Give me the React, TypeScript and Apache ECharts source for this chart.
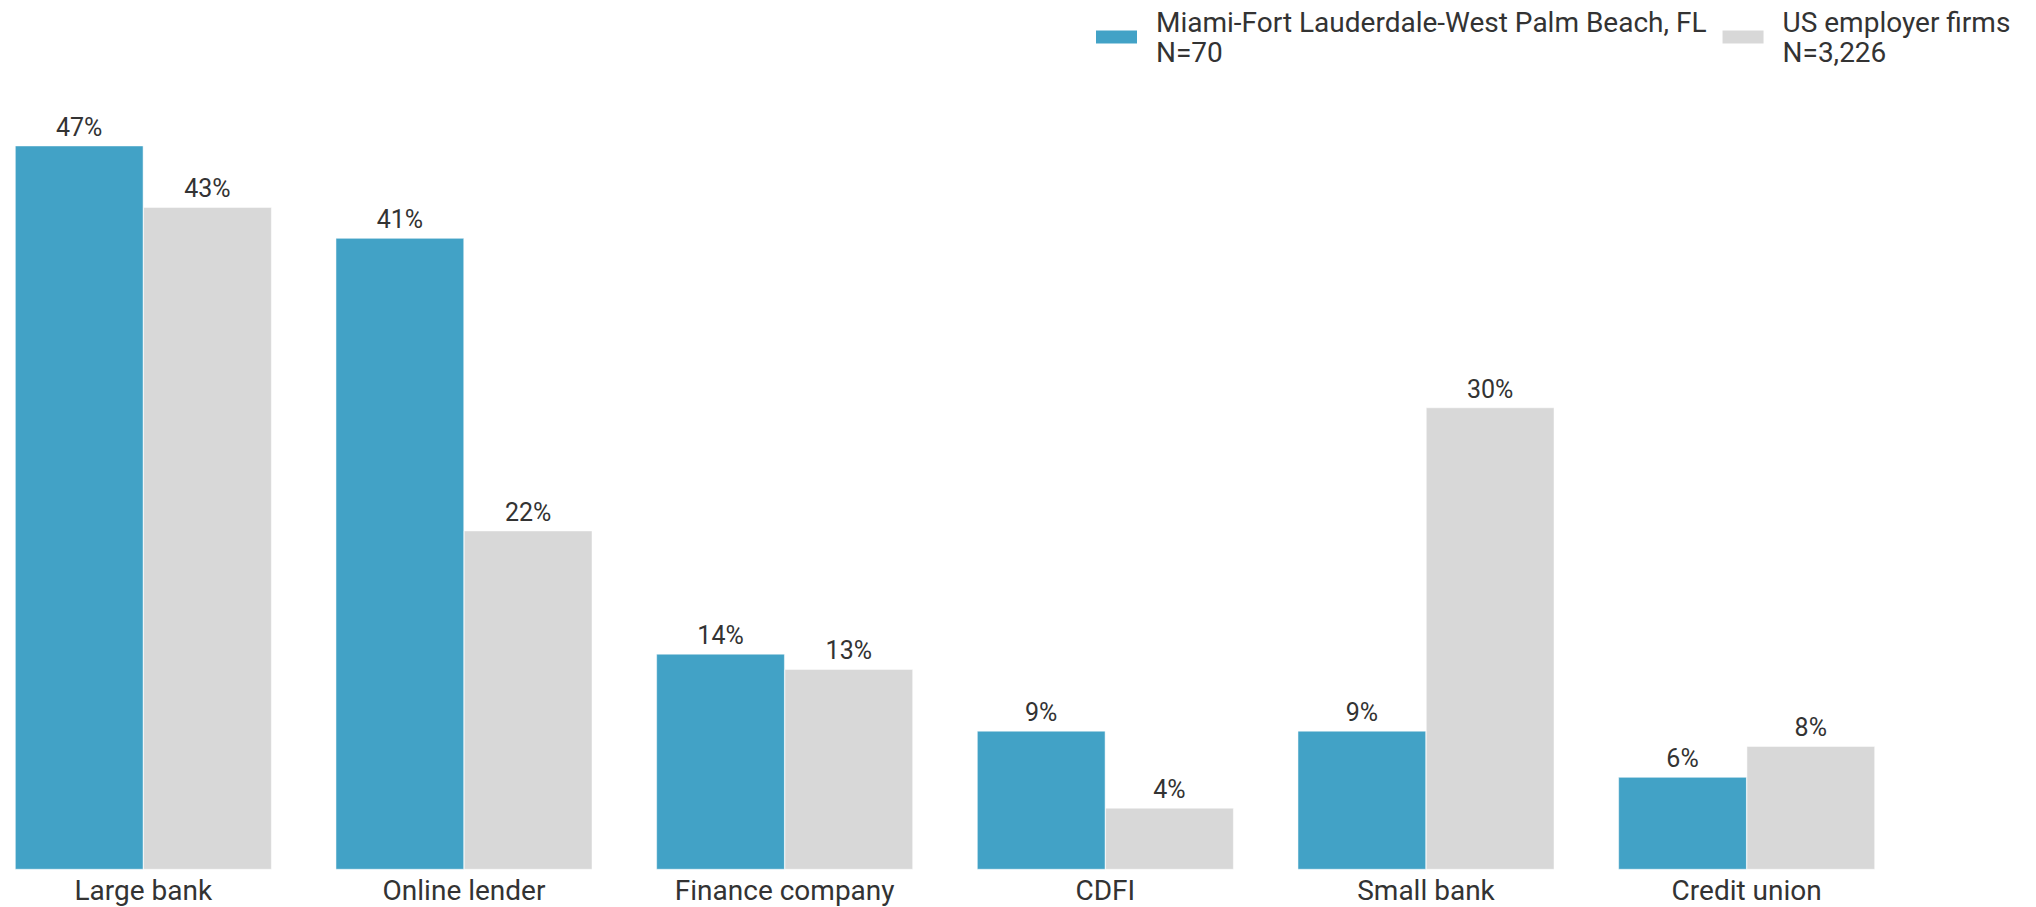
import React, { useEffect, useRef } from "react";
import * as echarts from "echarts";

const categories = ["Large bank", "Online lender", "Finance company", "CDFI", "Small bank", "Credit union"];
const miamiValues = [47, 41, 14, 9, 9, 6];
const usValues = [43, 22, 13, 4, 30, 8];
const seriesNames = ["Miami-Fort Lauderdale-West Palm Beach, FL\nN=70", "US employer firms\nN=3,226"];

const BLUE = "#42A2C6";
const GREY = "#D8D8D8";
const TEXT = "#333333";
const FONT = "Roboto";
const SHIFT = 17;

export default function App() {
  const ref = useRef<HTMLDivElement>(null);
  useEffect(() => {
    if (!ref.current) return;
    const chart = echarts.init(ref.current, undefined, { renderer: "svg" });
    const label = {
      show: true,
      position: "top" as const,
      distance: 6,
      formatter: "{c}%",
      color: TEXT,
      fontFamily: FONT,
      fontSize: 25,
    };
    chart.setOption({
      animation: false,
      backgroundColor: "#ffffff",
      legend: {
        left: 1089 + SHIFT,
        top: 2,
        itemWidth: 43,
        itemHeight: 15,
        itemGap: 14,
        icon: "rect",
        textStyle: {
          color: TEXT,
          fontFamily: FONT,
          fontSize: 28,
          lineHeight: 30,
          padding: [0, 0, 0, 13],
        },
        data: seriesNames,
      },
      grid: { left: 0, right: 129, top: 99.5, bottom: 37.5 },
      xAxis: {
        type: "category",
        data: categories,
        axisLine: { show: false },
        axisTick: { show: false },
        axisLabel: { color: TEXT, fontFamily: FONT, fontSize: 28, margin: 7 },
      },
      yAxis: {
        type: "value",
        min: 0,
        max: 50,
        show: false,
        splitLine: { show: false },
      },
      series: [
        {
          name: seriesNames[0],
          type: "bar",
          data: miamiValues,
          barGap: "0%",
          barCategoryGap: "20%",
          itemStyle: { color: BLUE, borderColor: "#ffffff", borderWidth: 0.5 },
          label,
        },
        {
          name: seriesNames[1],
          type: "bar",
          data: usValues,
          barGap: "0%",
          barCategoryGap: "20%",
          itemStyle: { color: GREY, borderColor: "#ffffff", borderWidth: 0.5 },
          label,
        },
      ],
    });
    return () => chart.dispose();
  }, []);
  return (
    <div
      ref={ref}
      style={{ position: "fixed", left: -SHIFT, top: 0, width: 2036 + SHIFT, height: 907 }}
    />
  );
}
